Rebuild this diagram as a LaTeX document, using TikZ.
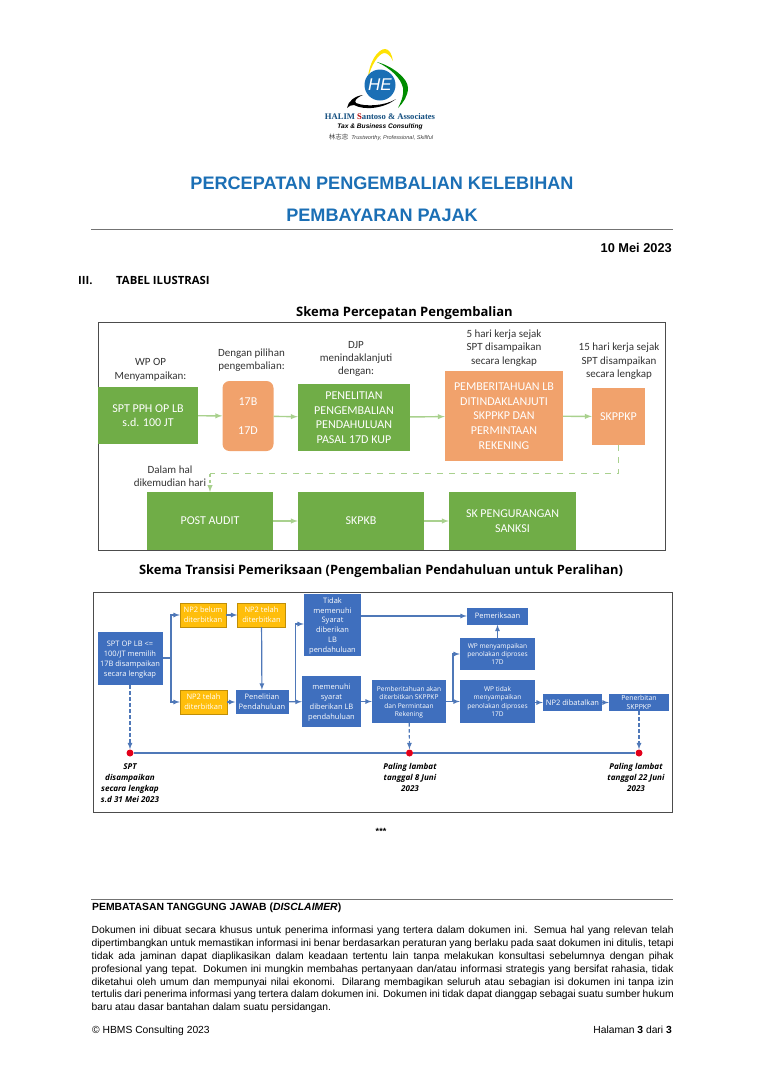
\documentclass[tikz,border=0pt]{standalone}
\usepackage{fontspec}
\usepackage{xcolor}
\usepackage{tikz}
\setmainfont{Liberation Sans}
\newfontfamily\calibrifont{Carlito}
\newfontfamily\segoefont{Open Sans}
\newfontfamily\logoserif{Liberation Serif}
\newfontfamily\cjkfont{Noto Sans CJK SC}
\definecolor{hbblue}{HTML}{1B6FB5}
\definecolor{greenbox}{HTML}{70AD47}
\definecolor{greenline}{HTML}{A9D18E}
\definecolor{orangebox}{HTML}{F1A26C}
\definecolor{bluebox}{HTML}{3F6FBE}
\definecolor{blueline}{HTML}{4F78B8}
\definecolor{yellowbox}{HTML}{FFBE0B}
\definecolor{dotred}{HTML}{E2001A}
\tikzset{
    gbox/.style={fill=greenbox, text=white, align=center, inner sep=0pt, font=\calibrifont\fontsize{12}{14.6}\selectfont},
    obox/.style={gbox, fill=orangebox},
    glabel/.style={align=center, inner sep=0pt, text=black!80, font=\calibrifont\fontsize{11}{13.4}\selectfont},
    garrow/.style={draw=greenline, line width=1.4pt, -latex},
    gdash/.style={draw=greenline, line width=1.5pt, dash pattern=on 6pt off 6pt},
    bbox/.style={fill=bluebox, text=white, align=center, inner sep=0pt, font=\segoefont\fontsize{7.5}{9.9}\selectfont},
    mbox/.style={bbox, text depth=-1.5pt},
    ybox/.style={mbox, fill=yellowbox, draw=yellowbox!75!black},
    barrow/.style={draw=blueline, line width=1.2pt, -latex},
    bline/.style={draw=blueline, line width=1.2pt},
    bdash/.style={barrow, dash pattern=on 3.5pt off 2.5pt},
    dotnode/.style={circle, fill=dotred, inner sep=0pt, minimum size=7pt},
    datelabel/.style={align=center, inner sep=0pt, font=\segoefont\bfseries\itshape\fontsize{8.1}{11}\selectfont},
    frame/.style={draw=black!70, line width=1pt},
    pagerule/.style={draw=black!55, line width=.7pt}
}
\begin{document}
\begin{tikzpicture}[x=1pt, y=-1pt]
    \useasboundingbox (0, 0) rectangle (764, 1080);

    % logo
    \fill[yellow!85!orange] (368, 78) .. controls (369, 62) and (378, 49) .. (385, 49) .. controls (389, 49) and (392, 54) .. (393, 61) .. controls (390, 55) and (387, 53) .. (384, 53) .. controls (378, 54) and (371, 66) .. (368, 78);
    \fill[green!55!black] (377, 62) .. controls (392, 66) and (408, 78) .. (408, 88) .. controls (408, 96) and (403, 103) .. (398, 108) .. controls (402, 100) and (404, 94) .. (403, 88) .. controls (401, 78) and (390, 68) .. (377, 62);
    \fill[black] (347, 108) .. controls (348, 101) and (355, 96) .. (363, 95) .. controls (356, 98) and (354, 101) .. (356, 103) .. controls (365, 107) and (385, 106) .. (396, 99) .. controls (385, 108) and (365, 111) .. (354, 105) .. controls (351, 105) and (349, 106) .. (347, 108);
    \node[circle, fill=hbblue, minimum size=31pt, inner sep=0pt, text=white, font=\itshape\fontsize{17}{17}\selectfont] at (380, 85) (logoball) {HE};
    \node[inner sep=0pt, font=\logoserif\bfseries\fontsize{8.6}{9}\selectfont, text=hbblue!70!black] at (380, 117) (logoname) {HALIM \textcolor{red!70!black}{S}antoso \& Associates};
    \node[inner sep=0pt, font=\bfseries\itshape\fontsize{6.6}{8}\selectfont] at (380, 127) (logotag) {Tax \& Business Consulting};
    \node[inner sep=0pt, font=\itshape\fontsize{5.6}{6}\selectfont, text=black!75] at (381, 137) (logomotto) {{\cjkfont\fontsize{6.5}{6}\selectfont 林志忠}\ \ Trustworthy, Professional, Skillful};

    % page heading
    \node[inner sep=0pt, text=hbblue, font=\bfseries\fontsize{18.1}{20}\selectfont] at (382, 183) (title1) {PERCEPATAN PENGEMBALIAN KELEBIHAN};
    \node[inner sep=0pt, text=hbblue, font=\bfseries\fontsize{18.1}{20}\selectfont] at (382, 215) (title2) {PEMBAYARAN PAJAK};
    \draw[pagerule] (91, 229) -- (673, 229);
    \node[inner sep=0pt, anchor=east, font=\bfseries\fontsize{12.8}{14}\selectfont] at (672, 248) (tanggal) {10 Mei 2023};
    \node[inner sep=0pt, anchor=base west, font=\segoefont\bfseries\fontsize{11.3}{13}\selectfont] at (78, 284) (bab) {III.};
    \node[inner sep=0pt, anchor=base west, font=\segoefont\bfseries\fontsize{11.3}{13}\selectfont] at (116, 284) (babjudul) {TABEL ILUSTRASI};

    % skema percepatan
    \node[inner sep=0pt, font=\segoefont\bfseries\fontsize{13}{15}\selectfont] at (404.5, 313) (skema1) {Skema Percepatan Pengembalian};
    \draw[frame] (98, 322.5) rectangle (665, 550);

    \node[gbox, minimum width=100pt, minimum height=57pt] at (148, 415.5) (sptop) {SPT PPH OP LB\\s.d. 100 JT};
    \node[obox, rounded corners=7pt, minimum width=51pt, minimum height=70pt] at (248, 416) (pilihan) {17B\\[15pt]17D};
    \node[gbox, minimum width=112pt, minimum height=67pt] at (354, 417.5) (penelitian) {PENELITIAN\\PENGEMBALIAN\\PENDAHULUAN\\PASAL 17D KUP};
    \node[obox, minimum width=118pt, minimum height=90pt] at (504, 416) (pemberitahuan) {PEMBERITAHUAN LB\\DITINDAKLANJUTI\\SKPPKP DAN\\PERMINTAAN\\REKENING};
    \node[obox, minimum width=53pt, minimum height=57pt] at (618.5, 416.5) (skppkp) {SKPPKP};
    \node[gbox, minimum width=126pt, minimum height=57.5pt] at (210, 521) (postaudit) {POST AUDIT};
    \node[gbox, minimum width=126pt, minimum height=57.5pt] at (361, 521) (skpkb) {SKPKB};
    \node[gbox, minimum width=127pt, minimum height=57.5pt] at (512.5, 521) (sksanksi) {SK PENGURANGAN\\SANKSI};

    \node[glabel] at (150.5, 370) (lblwp) {WP OP\\Menyampaikan:};
    \node[glabel] at (251.5, 360) (lblpilihan) {Dengan pilihan\\pengembalian:};
    \node[glabel] at (356, 359) (lbldjp) {DJP\\menindaklanjuti\\dengan:};
    \node[glabel] at (504, 348) (lbl5hari) {5 hari kerja sejak\\SPT disampaikan\\secara lengkap};
    \node[glabel] at (619, 361.5) (lbl15hari) {15 hari kerja sejak\\SPT disampaikan\\secara lengkap};
    \node[glabel] at (170, 476) (lbldalam) {Dalam hal\\dikemudian hari};

    \draw[garrow] (sptop) -- (pilihan);
    \draw[garrow] (pilihan) -- (penelitian);
    \draw[garrow] (penelitian) -- (pemberitahuan);
    \draw[garrow] (pemberitahuan) -- (skppkp);
    \draw[garrow] (postaudit) -- (skpkb);
    \draw[garrow] (skpkb) -- (sksanksi);
    \coordinate (dashkanan) at (skppkp.south |- 0, 473.5);
    \coordinate (dashkiri) at (postaudit.north |- 0, 473.5);
    \draw[gdash] (skppkp) -- (dashkanan) -- (dashkiri);
    \draw[garrow, dash pattern=on 3pt off 3pt] (dashkiri) -- (postaudit);

    % skema transisi
    \node[inner sep=0pt, font=\segoefont\bfseries\fontsize{12.9}{15}\selectfont] at (381, 571) (skema2) {Skema Transisi Pemeriksaan (Pengembalian Pendahuluan untuk Peralihan)};
    \draw[frame] (93.5, 592) rectangle (672, 812);

    \node[mbox, minimum width=65pt, minimum height=53pt] at (130, 658.5) (sptlb) {SPT OP LB <=\\100/JT memilih\\17B disampaikan\\secara lengkap};
    \node[ybox, minimum width=46pt, minimum height=24pt] at (203, 615) (belum) {NP2 belum\\diterbitkan};
    \node[ybox, minimum width=48pt, minimum height=24pt] at (261.5, 615) (telahatas) {NP2 telah\\diterbitkan};
    \node[ybox, minimum width=47pt, minimum height=24pt] at (203.5, 702) (telahbawah) {NP2 telah\\diterbitkan};
    \node[mbox, minimum width=53pt, minimum height=24pt] at (262, 702) (pendahuluan) {Penelitian\\Pendahuluan};
    \node[mbox, minimum width=57pt, minimum height=62pt] at (332.5, 625) (tidak) {Tidak\\memenuhi\\Syarat\\diberikan\\LB\\pendahuluan};
    \node[mbox, minimum width=59pt, minimum height=51pt] at (331.5, 701.5) (memenuhi) {memenuhi\\syarat\\diberikan LB\\pendahuluan};
    \node[mbox, minimum width=74pt, minimum height=43pt, font=\segoefont\fontsize{6.6}{8.4}\selectfont] at (409, 701.5) (pemberit) {Pemberitahuan akan\\diterbitkan SKPPKP\\dan Permintaan\\Rekening};
    \node[bbox, minimum width=61pt, minimum height=17pt] at (497.5, 616) (pemeriksaan) {Pemeriksaan};
    \node[mbox, minimum width=75pt, minimum height=32pt, font=\segoefont\fontsize{6.6}{8.4}\selectfont] at (497.5, 654) (wpmenyampaikan) {WP menyampaikan\\penolakan diproses\\17D};
    \node[mbox, minimum width=75pt, minimum height=43pt, font=\segoefont\fontsize{6.6}{8.4}\selectfont] at (497.5, 701.5) (wptidak) {WP tidak\\menyampaikan\\penolakan diproses\\17D};
    \node[bbox, minimum width=59pt, minimum height=17pt] at (572.5, 702.5) (dibatalkan) {NP2 dibatalkan};
    \node[bbox, minimum width=60pt, minimum height=17pt, font=\segoefont\fontsize{6.9}{8.4}\selectfont] at (639, 702.5) (penerbitan) {Penerbitan\\SKPPKP};

    \node[dotnode] at (130, 753) (dot1) {};
    \node[dotnode] at (409.5, 753) (dot2) {};
    \node[dotnode] at (639, 753) (dot3) {};
    \draw[bline] (dot1) -- (dot2);
    \draw[bline] (dot2) -- (dot3);
    \draw[bdash] (sptlb) -- (dot1);
    \draw[bdash] (pemberit) -- (dot2);
    \draw[bdash] (penerbitan) -- (dot3);

    \node[datelabel, anchor=north] at (130, 763.5) (datum1) {SPT\\disampaikan\\secara lengkap\\s.d 31 Mei 2023};
    \node[datelabel, anchor=north] at (410, 763.5) (datum2) {Paling lambat\\tanggal 8 Juni\\2023};
    \node[datelabel, anchor=north] at (636, 763.5) (datum3) {Paling lambat\\tanggal 22 Juni\\2023};

    \coordinate (cabang1) at (171, 658);
    \draw[bline] (sptlb.east |- cabang1) -- (cabang1);
    \draw[barrow] (cabang1) |- (belum);
    \draw[barrow] (cabang1) |- (telahbawah);
    \draw[barrow] (belum) -- (telahatas);
    \draw[barrow] (telahatas) -- (pendahuluan);
    \draw[barrow] (telahbawah) -- (pendahuluan);
    \draw[barrow] (pendahuluan) -- (memenuhi);
    \coordinate (cabang2) at (295.5, 702);
    \coordinate (tidakmasuk) at (tidak.west |- 0, 624);
    \draw[barrow] (cabang2) |- (tidakmasuk);
    \draw[barrow] (tidak.east |- pemeriksaan) -- (pemeriksaan);
    \draw[barrow] (memenuhi) -- (pemberit);
    \draw[barrow] (pemberit) -- (wptidak);
    \coordinate (cabang3) at (453, 702);
    \draw[barrow] (cabang3) |- (wpmenyampaikan);
    \draw[barrow] (wpmenyampaikan) -- (pemeriksaan);
    \draw[barrow] (wptidak.east |- dibatalkan) -- (dibatalkan);
    \draw[barrow] (dibatalkan) -- (penerbitan);

    \node[inner sep=0pt, font=\bfseries\fontsize{9}{11}\selectfont] at (381, 831) (bintang) {***};

    % disclaimer
    \draw[pagerule] (91, 899) -- (673, 899);
    \node[inner sep=0pt, anchor=west, font=\bfseries\fontsize{10.4}{12}\selectfont] at (92, 908) (disclaimer) {PEMBATASAN TANGGUNG JAWAB (\textit{DISCLAIMER})};
    \node[inner sep=0pt, anchor=north west, text width=582pt, align=justify, font=\fontsize{10.3}{12.85}\selectfont] at (91.5, 926) (isi) {Dokumen ini dibuat secara khusus untuk penerima informasi yang tertera dalam dokumen ini. Semua hal yang relevan telah\linebreak dipertimbangkan untuk memastikan informasi ini benar berdasarkan peraturan yang berlaku pada saat dokumen ini ditulis, tetapi\linebreak tidak ada jaminan dapat diaplikasikan dalam keadaan tertentu lain tanpa melakukan konsultasi sebelumnya dengan pihak\linebreak profesional yang tepat. Dokumen ini mungkin membahas pertanyaan dan/atau informasi strategis yang bersifat rahasia, tidak\linebreak diketahui oleh umum dan mempunyai nilai ekonomi. Dilarang membagikan seluruh atau sebagian isi dokumen ini tanpa izin\linebreak tertulis dari penerima informasi yang tertera dalam dokumen ini. Dokumen ini tidak dapat dianggap sebagai suatu sumber hukum\linebreak baru atau dasar bantahan dalam suatu persidangan.};
    \node[inner sep=0pt, anchor=base west, font=\fontsize{10.3}{12}\selectfont] at (92, 1033) (hakcipta) {© HBMS Consulting 2023};
    \node[inner sep=0pt, anchor=base east, font=\fontsize{10.3}{12}\selectfont] at (672, 1033) (halaman) {Halaman \textbf{3} dari \textbf{3}};
\end{tikzpicture}
\end{document}
